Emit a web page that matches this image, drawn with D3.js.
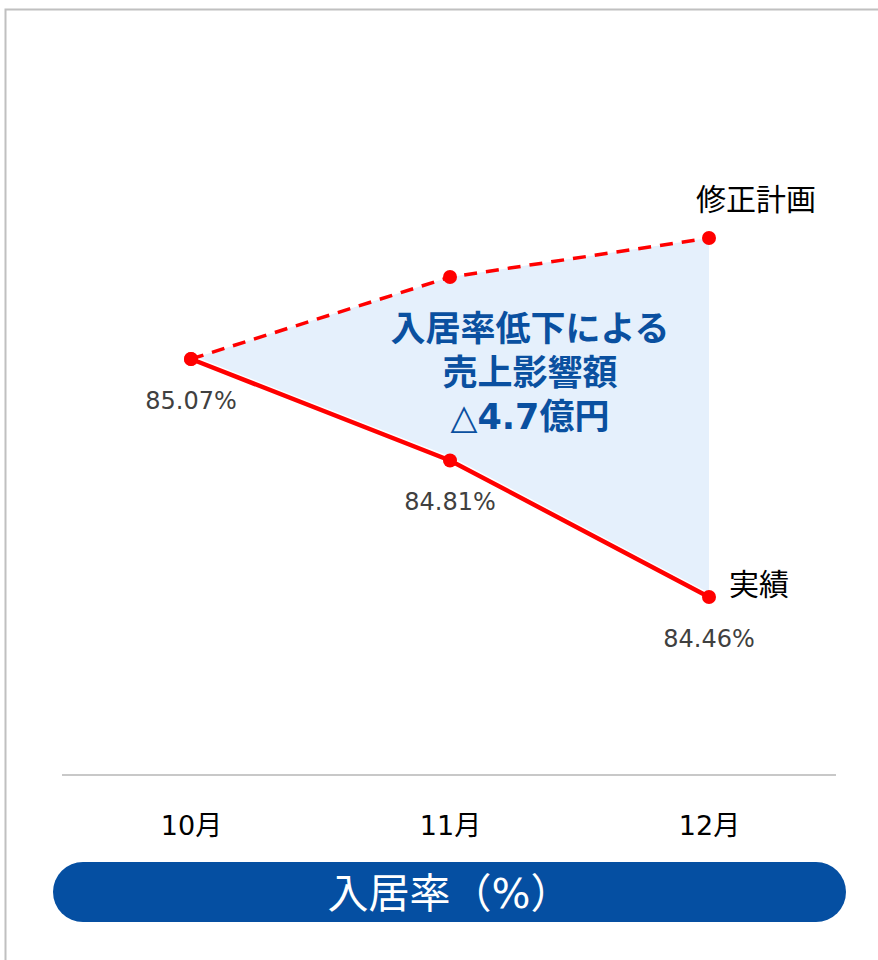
<!DOCTYPE html>
<html>
<head>
<meta charset="utf-8">
<script src="https://cdn.jsdelivr.net/npm/d3@7"></script>
<style>
  body { margin: 0; background: #fff; }
  svg { display: block; font-family: "DejaVu Sans", "Noto Sans CJK JP", sans-serif; }
</style>
</head>
<body>
<svg id="chart" width="878" height="960"></svg>
<script>
var months = ["10月", "11月", "12月"];
var actual = [85.07, 84.81, 84.46];
var plan = [85.07, 85.28, 85.38];
var actualLabels = ["85.07%", "84.81%", "84.46%"];
var seriesNames = ["修正計画", "実績"];
var noteLines = ["入居率低下による", "売上影響額", "△4.7億円"];
var axisTitle = "入居率（%）";

var svg = d3.select("#chart");
var red = "#ff0000";

// frame (only left and top edges show)
svg.append("path")
    .attr("d", "M5.5,960 V9.5 H878")
    .attr("fill", "none")
    .attr("stroke", "#c0c0c0")
    .attr("stroke-width", 2);

var x = d3.scalePoint()
    .domain(months)
    .range([191, 709]);

var y = d3.scaleLinear()
    .domain([84.46, 85.07])
    .range([597, 359]);

// shaded gap between plan and actual
var gap = months.map((m, i) => ({ m: m, hi: plan[i], lo: actual[i] }));
var area = d3.area()
    .x(d => x(d.m))
    .y0(d => y(d.lo))
    .y1(d => y(d.hi));
svg.append("path")
    .datum(gap)
    .attr("d", area)
    .attr("fill", "#e5f0fc");

var line = d3.line()
    .x((d, i) => x(months[i]))
    .y(d => y(d));

// white halo under the actual line
svg.append("path")
    .datum(actual)
    .attr("d", line)
    .attr("fill", "none")
    .attr("stroke", "#fff")
    .attr("stroke-width", 7.5);

svg.append("path")
    .datum(plan)
    .attr("d", line)
    .attr("fill", "none")
    .attr("stroke", red)
    .attr("stroke-width", 3.5)
    .attr("stroke-dasharray", "13,9");

svg.append("path")
    .datum(actual)
    .attr("d", line)
    .attr("fill", "none")
    .attr("stroke", red)
    .attr("stroke-width", 4.5);

svg.selectAll(".dot-plan")
    .data(plan)
    .join("circle")
    .attr("class", "dot-plan")
    .attr("cx", (d, i) => x(months[i]))
    .attr("cy", d => y(d))
    .attr("r", 7)
    .attr("fill", red);

svg.selectAll(".dot-actual")
    .data(actual)
    .join("circle")
    .attr("class", "dot-actual")
    .attr("cx", (d, i) => x(months[i]))
    .attr("cy", d => y(d))
    .attr("r", 7)
    .attr("fill", red);

// value labels under actual points
svg.selectAll(".val")
    .data(actual)
    .join("text")
    .attr("class", "val")
    .attr("x", (d, i) => x(months[i]))
    .attr("y", d => y(d) + 50)
    .attr("text-anchor", "middle")
    .attr("font-size", 24)
    .attr("fill", "#404040")
    .text((d, i) => actualLabels[i]);

// series names at the right end
svg.append("text")
    .attr("x", x(months[2]) + 47)
    .attr("y", y(plan[2]) - 28)
    .attr("text-anchor", "middle")
    .attr("font-size", 30)
    .attr("fill", "#000")
    .text(seriesNames[0]);

svg.append("text")
    .attr("x", x(months[2]) + 50)
    .attr("y", y(actual[2]) - 2)
    .attr("text-anchor", "middle")
    .attr("font-size", 30)
    .attr("fill", "#000")
    .text(seriesNames[1]);

// annotation
svg.selectAll(".note")
    .data(noteLines)
    .join("text")
    .attr("class", "note")
    .attr("x", 530)
    .attr("y", (d, i) => 341 + i * 44)
    .attr("text-anchor", "middle")
    .attr("font-size", 35)
    .attr("font-weight", "bold")
    .attr("fill", "#0a50a0")
    .text(d => d);

// baseline
svg.append("line")
    .attr("x1", 62).attr("x2", 836)
    .attr("y1", 775).attr("y2", 775)
    .attr("stroke", "#c8c8c8")
    .attr("stroke-width", 2);

// category axis
var xAxis = d3.axisBottom(x).tickSize(0).tickPadding(0);
var gx = svg.append("g")
    .attr("transform", "translate(0,835)")
    .call(xAxis);
gx.select(".domain").remove();
gx.selectAll("text")
    .attr("dy", 0)
    .attr("font-size", 27)
    .attr("font-family", "\"DejaVu Sans\", \"Noto Sans CJK JP\", sans-serif")
    .attr("fill", "#000");

// axis title pill
svg.append("rect")
    .attr("x", 53).attr("y", 862)
    .attr("width", 793).attr("height", 60)
    .attr("rx", 30)
    .attr("fill", "#054fa2");

svg.append("text")
    .attr("x", 449.5)
    .attr("y", 908)
    .attr("text-anchor", "middle")
    .attr("font-size", 41)
    .attr("fill", "#fff")
    .text(axisTitle);
</script>
</body>
</html>
